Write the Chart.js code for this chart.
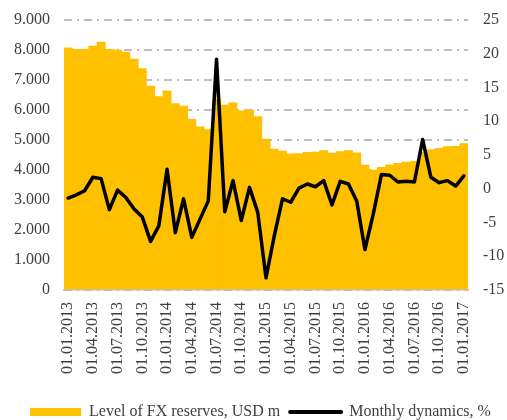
<!DOCTYPE html>
<html>
<head>
<meta charset="utf-8">
<script src="https://cdn.jsdelivr.net/npm/chart.js@4"></script>
<style>
  html, body { margin: 0; padding: 0; background: #fff; }
  #wrap { width: 507px; height: 420px; }
</style>
</head>
<body>
<div id="wrap"><canvas id="fxChart"></canvas></div>
<script>
// Months 01.01.2013 .. 01.01.2017
const months = [
  '01.01.2013','01.02.2013','01.03.2013','01.04.2013','01.05.2013','01.06.2013',
  '01.07.2013','01.08.2013','01.09.2013','01.10.2013','01.11.2013','01.12.2013',
  '01.01.2014','01.02.2014','01.03.2014','01.04.2014','01.05.2014','01.06.2014',
  '01.07.2014','01.08.2014','01.09.2014','01.10.2014','01.11.2014','01.12.2014',
  '01.01.2015','01.02.2015','01.03.2015','01.04.2015','01.05.2015','01.06.2015',
  '01.07.2015','01.08.2015','01.09.2015','01.10.2015','01.11.2015','01.12.2015',
  '01.01.2016','01.02.2016','01.03.2016','01.04.2016','01.05.2016','01.06.2016',
  '01.07.2016','01.08.2016','01.09.2016','01.10.2016','01.11.2016','01.12.2016',
  '01.01.2017'
];

// Level of FX reserves, USD m (left axis)
const reserves = [
  8070, 8020, 8020, 8130, 8260, 8020, 8000, 7930, 7700, 7380, 6800, 6450,
  6640, 6210, 6130, 5690, 5440, 5350, 6360, 6160, 6240, 5970, 6000, 5780,
  5030, 4700, 4630, 4540, 4550, 4590, 4600, 4650, 4560, 4610, 4650, 4570,
  4160, 4000, 4090, 4170, 4220, 4260, 4290, 4600, 4680, 4720, 4780, 4790,
  4880
];

// Monthly dynamics, % (right axis)
const dynamics = [
  -1.4, -0.9, -0.3, 1.7, 1.5, -3.1, -0.2, -1.3, -3.0, -4.2, -7.8, -5.5,
  2.9, -6.5, -1.5, -7.2, -4.5, -1.8, 19.2, -3.4, 1.2, -4.7, 0.2, -3.5,
  -13.2, -7.0, -1.5, -2.0, 0.1, 0.7, 0.3, 1.2, -2.4, 1.1, 0.7, -1.8,
  -9.0, -3.8, 2.1, 2.0, 1.0, 1.1, 1.0, 7.3, 1.7, 0.9, 1.2, 0.4,
  1.9
];

const GOLD = '#FFC000';
const GRID = '#BFBFBF';
const TEXT = '#404040';

Chart.defaults.font.family = '"Liberation Serif", "DejaVu Serif", serif';
Chart.defaults.font.size = 16;
Chart.defaults.color = TEXT;

const fmtThousands = v => String(v).replace(/\B(?=(\d{3})+(?!\d))/g, '.');

// y axes: keep fixed widths and don't let label overflow push the chart area
const fixAxis = w => s => { s.width = w; s.paddingTop = 0; s.paddingBottom = 0; };

new Chart(document.getElementById('fxChart'), {
  type: 'bar',
  data: {
    labels: months,
    datasets: [
      {
        label: 'Level of FX reserves, USD m',
        data: reserves,
        backgroundColor: GOLD,
        borderWidth: 0,
        barPercentage: 1,
        categoryPercentage: 1,
        yAxisID: 'y',
        order: 1
      },
      {
        type: 'line',
        label: 'Monthly dynamics, %',
        data: dynamics,
        borderColor: '#000',
        backgroundColor: '#000',
        borderWidth: 3.5,
        borderJoinStyle: 'round',
        borderCapStyle: 'round',
        pointRadius: 0,
        tension: 0,
        yAxisID: 'y1',
        order: 0
      }
    ]
  },
  options: {
    responsive: true,
    maintainAspectRatio: false,
    animation: false,
    layout: { padding: { left: 0, right: -14, top: 20, bottom: -10 } },
    scales: {
      x: {
        grid: { display: false, drawTicks: false },
        border: { display: true, color: GRID, width: 1.5 },
        ticks: {
          autoSkip: false,
          minRotation: 90,
          maxRotation: 90,
          padding: 12,
          callback: (val, i) => (i % 3 === 0 ? months[i] : '')
        },
        afterFit: s => { s.height = 104; }
      },
      y: {
        position: 'left',
        min: 0,
        max: 9000,
        grid: { display: true, color: GRID, lineWidth: 2, drawTicks: false },
        border: { display: false, dash: [8, 5, 2, 5], dashOffset: 0 },
        ticks: { stepSize: 1000, padding: 14, callback: v => fmtThousands(v) },
        afterFit: fixAxis(64)
      },
      y1: {
        position: 'right',
        min: -15,
        max: 25,
        grid: { display: false, drawTicks: false },
        border: { display: false },
        ticks: { stepSize: 5, padding: 15 },
        afterFit: fixAxis(53)
      }
    },
    plugins: {
      tooltip: { enabled: false },
      legend: {
        position: 'bottom',
        labels: {
          usePointStyle: true,
          pointStyleWidth: 51,
          boxHeight: 8,
          padding: 10,
          generateLabels(chart) {
            const items = Chart.defaults.plugins.legend.labels.generateLabels(chart);
            items.forEach(it => {
              if (it.datasetIndex === 0) {
                it.pointStyle = 'rect';
                it.fillStyle = GOLD;
                it.lineWidth = 0;
              } else {
                it.pointStyle = 'line';
                it.strokeStyle = '#000';
                it.lineWidth = 4;
                it.lineCap = 'round';
              }
            });
            return items.sort((a, b) => a.datasetIndex - b.datasetIndex);
          }
        }
      }
    }
  }
});
</script>
</body>
</html>
